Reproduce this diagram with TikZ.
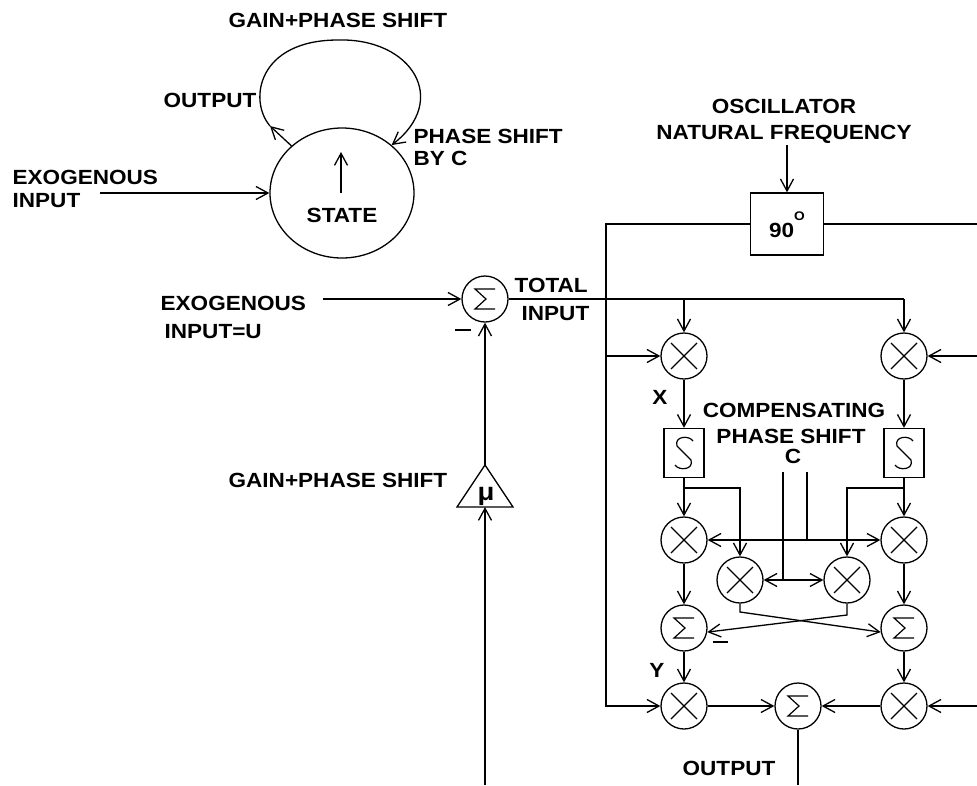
\documentclass[tikz,border=0pt]{standalone}
\usepackage{fontspec}
\setmainfont{Liberation Sans}[FakeStretch=1.1]
\usetikzlibrary{arrows.meta,shapes.geometric}
\begin{document}
\begin{tikzpicture}[x=1pt,y=-1pt,line width=1.3pt,
  tip/.tip={Straight Barb[length=12pt,width=13pt]},
  arr/.style={-tip},
  arrb/.style={tip-tip},
  lbl/.style={font=\fontsize{20.5}{24}\selectfont\bfseries,inner sep=0pt},
  mult/.style={circle,draw,minimum size=46pt,inner sep=0pt,
    path picture={\draw[line width=1.2pt,shift={(path picture bounding box.center)}]
      (-13pt,-13pt) -- (13pt,13pt) (-13pt,13pt) -- (13pt,-13pt);}},
  summ/.style={circle,draw,minimum size=46pt,inner sep=0pt,
    path picture={\draw[line width=1.2pt,shift={(path picture bounding box.center)}]
      (10pt,10pt) -- (-10pt,10pt) -- (1pt,0pt) -- (-10pt,-10pt) -- (10pt,-10pt);}},
  integ/.style={rectangle,draw,minimum width=40pt,minimum height=49pt,inner sep=0pt,
    path picture={\draw[line width=1.2pt,shift={(path picture bounding box.center)}]
      (9pt,12pt) .. controls (5pt,18pt) and (-10pt,17pt) .. (-7pt,7pt) -- (7pt,-7pt)
      .. controls (10pt,-17pt) and (-5pt,-18pt) .. (-9pt,-12pt);}}]
\useasboundingbox (0,0) rectangle (977,785);

% ---------- top-left sketch ----------
\node[draw,ellipse,minimum width=144pt,minimum height=130pt,inner sep=0pt] (state) at (342,193) {};
\node[lbl,anchor=base] (statet) at (342,222) {STATE};
\coordinate (sin1) at (341,193);
\coordinate (sin2) at (341,152);
\draw[arr] (sin1) -- (sin2);
\coordinate (exo1e) at (100,193);
\draw[arr] (exo1e) -- (state.west);
\coordinate (lpA) at (270,126);
\draw[arr] (state.137) -- (lpA);
\draw[arr] (lpA) .. controls (248,100) and (258,40) .. (338,40)
  .. controls (412,38) and (450,100) .. (state.44);
\node[lbl,anchor=base west] (gps1) at (228,27) {GAIN+PHASE SHIFT};
\node[lbl,anchor=base east] (out1) at (257,107) {OUTPUT};
\node[lbl,anchor=base west] (psc1) at (413,143) {PHASE SHIFT};
\node[lbl,anchor=base west] (psc2) at (413,165) {BY C};
\node[lbl,anchor=base west] (exo1a) at (12,184) {EXOGENOUS};
\node[lbl,anchor=base west] (exo1b) at (12,207) {INPUT};

% ---------- middle ----------
\node[summ] (sum0) at (485,299) {};
\coordinate (exo2e) at (323,299);
\draw[arr] (exo2e) -- (sum0.west);
\node[lbl,anchor=base west] (exo2a) at (160,310) {EXOGENOUS};
\node[lbl,anchor=base west] (exo2b) at (164,338) {INPUT=U};
\node[inner sep=0pt] (minus1) at (463,330) {\rule{16pt}{1.3pt}};
\coordinate (triT) at (485,465);
\coordinate (triB) at (485,507);
\coordinate (triL) at (457,507);
\coordinate (triR) at (513,507);
\draw (triL) -- (triT) -- (triR) -- cycle;
\node[inner sep=0pt,anchor=base,font=\fontsize{25}{25}\selectfont\bfseries] (mu) at (486,500) {μ};
\draw[arr] (triT) -- (sum0.south);
\coordinate (botin) at (485,785);
\draw[arr] (botin) -- (triB);
\node[lbl,anchor=base west] (gps2) at (228,487) {GAIN+PHASE SHIFT};
\node[lbl,anchor=base west] (tot1) at (514,292) {TOTAL};
\node[lbl,anchor=base west] (tot2) at (521,320) {INPUT};

% ---------- right block ----------
\node[draw,minimum width=73pt,minimum height=62pt,inner sep=0pt] (ph) at (787,224) {};
\node[lbl,anchor=base] (pht) at (787,237) {90\raisebox{17pt}{\fontsize{12.5}{12}\selectfont O}};
\coordinate (osc) at (787,145);
\draw[arr] (osc) -- (ph.north);
\node[lbl,anchor=base] (osct1) at (784,113) {OSCILLATOR};
\node[lbl,anchor=base] (osct2) at (784,139) {NATURAL FREQUENCY};

\node[mult] (M1) at (684,356) {};
\node[mult] (M2) at (904,356) {};
\node[integ] (Sb1) at (684,453) {};
\node[integ] (Sb2) at (904,453) {};
\node[mult] (M3) at (684,540) {};
\node[mult] (M6) at (904,540) {};
\node[mult] (M4) at (740,580) {};
\node[mult] (M5) at (847,580) {};
\node[summ] (S1) at (684,628) {};
\node[summ] (S2) at (904,628) {};
\node[mult] (M7) at (684,706) {};
\node[summ] (S3) at (798,706) {};
\node[mult] (M8) at (904,706) {};

% total input bus
\coordinate (busR) at (904,299);
\draw (sum0.east) -- (busR);
\draw[arr] (busR) -- (M2.north);
\draw[arr] (M1.north |- busR) -- (M1.north);

% 90 degree distribution
\coordinate (lbB) at (606,706);
\draw[arr] (ph.west) -| (lbB) -- (M7.west);
\draw[arr] (lbB |- M1) -- (M1.west);
\coordinate (rE1) at (977,224);
\coordinate (rE2) at (977,356);
\coordinate (rE3) at (977,706);
\draw (ph.east) -- (rE1);
\draw[arr] (rE2) -- (M2.east);
\draw[arr] (rE3) -- (M8.east);

% columns
\draw[arr] (M1) -- (Sb1);
\draw[arr] (M2) -- (Sb2);
\draw[arr] (Sb1) -- (M3);
\draw[arr] (Sb2) -- (M6);
\coordinate (br1) at (684,488);
\coordinate (br2) at (904,488);
\draw[arr] (br1) -| (M4.north);
\draw[arr] (br2) -| (M5.north);

% compensating phase shift C
\coordinate (c1) at (783,472);
\coordinate (c2) at (807,472);
\draw[arrb] (M3) -- (M6);
\draw[arrb] (M4) -- (M5);
\draw (c1) -- (c1 |- M4);
\draw (c2) -- (c2 |- M3);

% cross connections
\coordinate (k1) at (740,612);
\coordinate (k2) at (847,615);
\draw[arr] (M4.south) -- (k1) -- (S2.190);
\draw[arr] (M5.south) -- (k2) -- (S1.350);
\node[inner sep=0pt] (minus2) at (720,642) {\rule{15pt}{1.3pt}};

\draw[arr] (M3) -- (S1);
\draw[arr] (M6) -- (S2);
\draw[arr] (S1) -- (M7);
\draw[arr] (S2) -- (M8);
\draw[arr] (M7) -- (S3);
\draw[arr] (M8) -- (S3);
\coordinate (outE) at (798,785);
\draw (S3.south) -- (outE);

\node[lbl,anchor=base] (xl) at (660,404) {X};
\node[lbl,anchor=base] (yl) at (657,677) {Y};
\node[lbl,anchor=base] (cps1) at (794,417) {COMPENSATING};
\node[lbl,anchor=base] (cps2) at (791,443) {PHASE SHIFT};
\node[lbl,anchor=base] (cps3) at (793,463) {C};
\node[lbl,anchor=base west] (out2) at (682,775) {OUTPUT};
\end{tikzpicture}
\end{document}
